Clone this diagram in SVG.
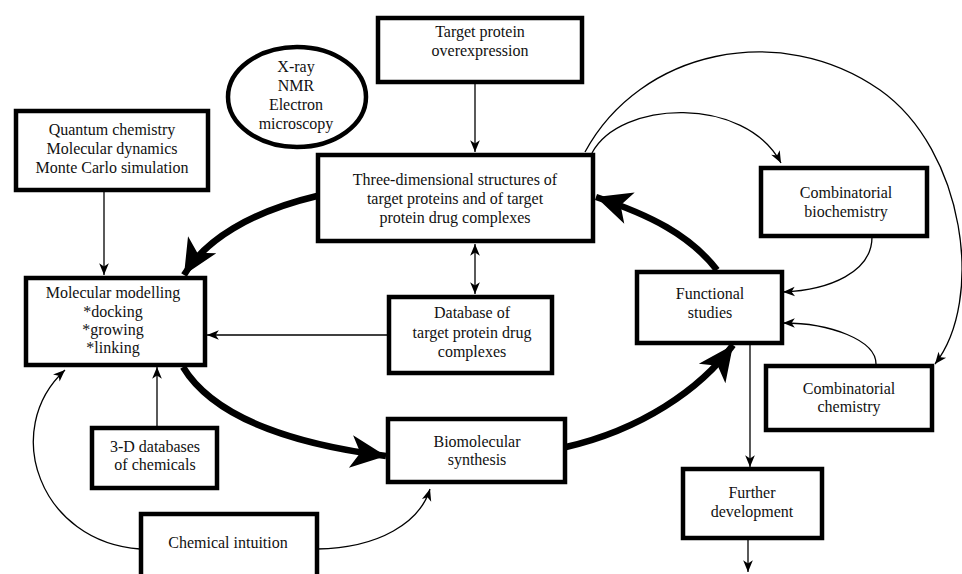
<svg xmlns="http://www.w3.org/2000/svg" width="962" height="574" viewBox="0 0 962 574">
<style>
.box{fill:#fff;stroke:#000;stroke-width:4.5}
.t{font-family:"Liberation Serif","Times New Roman",serif;font-size:16px;fill:#111;text-anchor:middle}
.thick{fill:none;stroke:#000;stroke-width:6.5}
.thin{fill:none;stroke:#000;stroke-width:1.3}
</style>
<defs>
<marker id="big" markerUnits="userSpaceOnUse" markerWidth="40" markerHeight="40" viewBox="-32 -16 34 32" refX="0" refY="0" orient="auto">
<path d="M0,0 L-30,-14 L-22,0 L-30,14 Z" fill="#000"/>
</marker>
<marker id="sm" markerUnits="userSpaceOnUse" markerWidth="14" markerHeight="14" viewBox="-12 -6 13 12" refX="0" refY="0" orient="auto">
<path d="M0,0 L-11,-4.5 L-8,0 L-11,4.5 Z" fill="#000"/>
</marker>
<marker id="smS" markerUnits="userSpaceOnUse" markerWidth="14" markerHeight="14" viewBox="-1 -6 13 12" refX="0" refY="0" orient="auto">
<path d="M0,0 L11,-4.5 L8,0 L11,4.5 Z" fill="#000"/>
</marker>
</defs>
<rect width="962" height="574" fill="#fff"/>
<g id="connectors">
<path class="thick" d="M317,196 C250,212 205,240 184,275" marker-end="url(#big)"/>
<path class="thick" d="M183,367 C215,420 300,445 386,456" marker-end="url(#big)"/>
<path class="thick" d="M566,447 C640,430 700,390 733,345" marker-end="url(#big)"/>
<path class="thick" d="M717,270 C690,235 650,215 596,197" marker-end="url(#big)"/>
<path class="thin" d="M475,83 L475,152" marker-end="url(#sm)"/>
<path class="thin" d="M104,191 L104,275" marker-end="url(#sm)"/>
<path class="thin" d="M387,335 L207,335" marker-end="url(#sm)"/>
<path class="thin" d="M157,426 L157,367" marker-end="url(#sm)"/>
<path class="thin" d="M475,244 L475,294" marker-start="url(#smS)" marker-end="url(#sm)"/>
<path class="thin" d="M140,549 C40,542 0,430 65,370" marker-end="url(#sm)"/>
<path class="thin" d="M317,549 C380,548 420,522 430,489" marker-end="url(#sm)"/>
<path class="thin" d="M592,153 C620,100 745,95 781,163" marker-end="url(#sm)"/>
<path class="thin" d="M585,152 C640,50 780,20 880,90 C965,150 985,300 935,364" marker-end="url(#sm)"/>
<path class="thin" d="M872,237 C872,272 830,290 783,292" marker-end="url(#sm)"/>
<path class="thin" d="M876,364 C876,340 830,323 783,323" marker-end="url(#sm)"/>
<path class="thin" d="M750,344 L750,467" marker-end="url(#sm)"/>
<path class="thin" d="M748,540 L748,572" marker-end="url(#sm)"/>
</g>
<g id="overexpression">
<rect class="box" x="378" y="18" width="204" height="64"/>
<text class="t" x="480" y="37">Target protein</text>
<text class="t" x="480" y="56">overexpression</text>
</g>
<g id="methods">
<ellipse cx="297" cy="97" rx="69" ry="50" fill="#fff" stroke="#000" stroke-width="4.5"/>
<text class="t" x="296" y="72">X-ray</text>
<text class="t" x="296" y="91">NMR</text>
<text class="t" x="296" y="110">Electron</text>
<text class="t" x="296" y="129">microscopy</text>
</g>
<g id="structures">
<rect class="box" x="318" y="155" width="275" height="86"/>
<text class="t" x="455" y="185">Three-dimensional structures of</text>
<text class="t" x="455" y="204">target proteins and of target</text>
<text class="t" x="455" y="223">protein drug complexes</text>
</g>
<g id="quantum">
<rect class="box" x="16" y="111" width="192" height="79"/>
<text class="t" x="112" y="135">Quantum chemistry</text>
<text class="t" x="112" y="154">Molecular dynamics</text>
<text class="t" x="112" y="173">Monte Carlo simulation</text>
</g>
<g id="modelling">
<rect class="box" x="26" y="278" width="179" height="87"/>
<text class="t" x="113" y="298">Molecular modelling</text>
<text class="t" x="113" y="317">*docking</text>
<text class="t" x="113" y="335">*growing</text>
<text class="t" x="113" y="353">*linking</text>
</g>
<g id="database">
<rect class="box" x="389" y="297" width="163" height="76"/>
<text class="t" x="472" y="318">Database of</text>
<text class="t" x="472" y="338">target protein drug</text>
<text class="t" x="472" y="357">complexes</text>
</g>
<g id="chemdb">
<rect class="box" x="92" y="428" width="125" height="60"/>
<text class="t" x="155" y="452">3-D databases</text>
<text class="t" x="155" y="470">of chemicals</text>
</g>
<g id="synthesis">
<rect class="box" x="388" y="419" width="177" height="63"/>
<text class="t" x="477" y="447">Biomolecular</text>
<text class="t" x="477" y="465">synthesis</text>
</g>
<g id="intuition">
<rect class="box" x="141" y="514" width="176" height="70"/>
<text class="t" x="228" y="548">Chemical intuition</text>
</g>
<g id="functional">
<rect class="box" x="637" y="272" width="145" height="71"/>
<text class="t" x="710" y="299">Functional</text>
<text class="t" x="710" y="318">studies</text>
</g>
<g id="combbio">
<rect class="box" x="761" y="168" width="166" height="68"/>
<text class="t" x="846" y="198">Combinatorial</text>
<text class="t" x="846" y="217">biochemistry</text>
</g>
<g id="combchem">
<rect class="box" x="766" y="366" width="166" height="64"/>
<text class="t" x="849" y="394">Combinatorial</text>
<text class="t" x="849" y="412">chemistry</text>
</g>
<g id="further">
<rect class="box" x="683" y="469" width="139" height="69"/>
<text class="t" x="752" y="498">Further</text>
<text class="t" x="752" y="517">development</text>
</g>
</svg>
